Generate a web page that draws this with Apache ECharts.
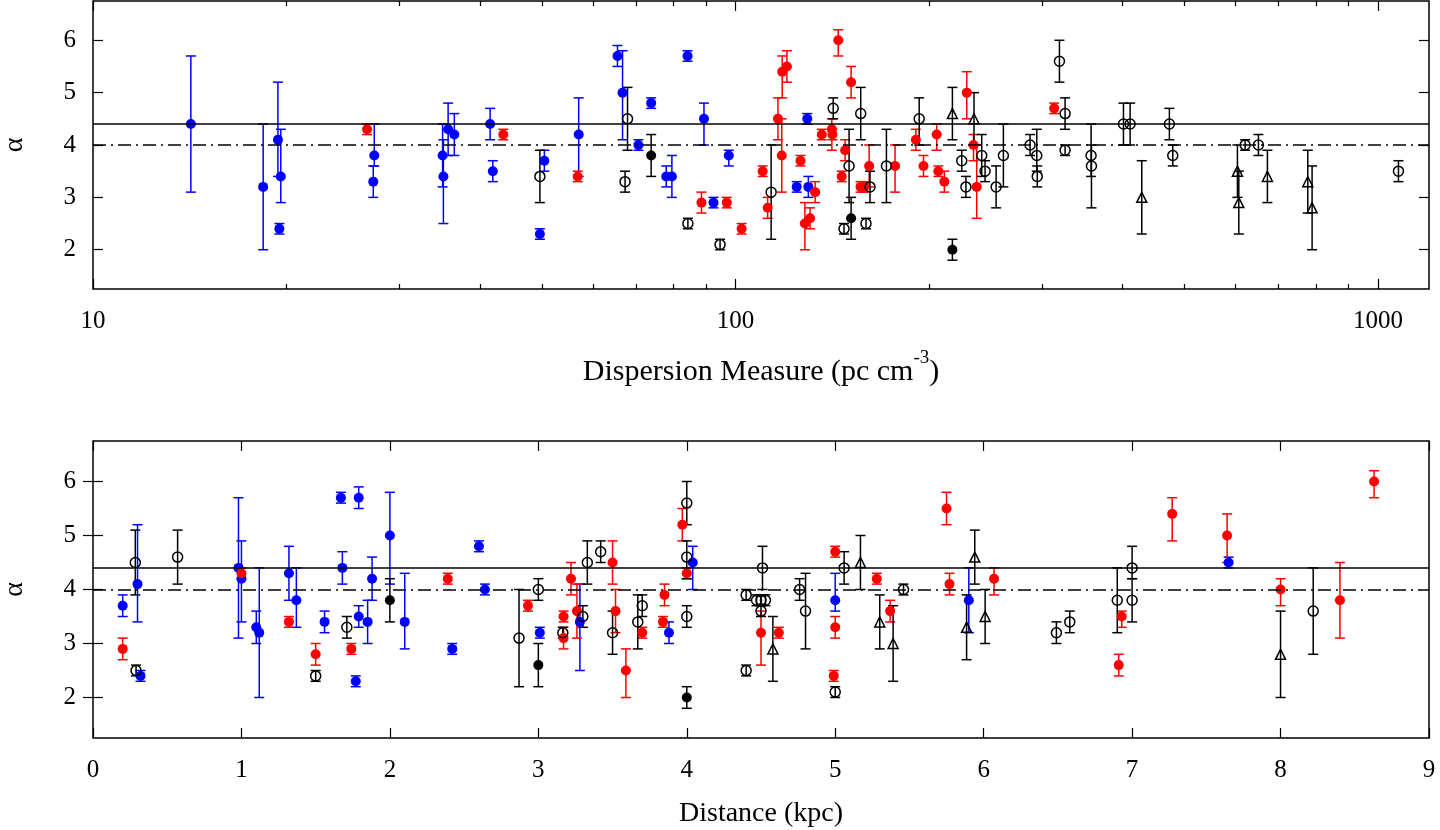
<!DOCTYPE html>
<html>
<head>
<meta charset="utf-8">
<script src="https://cdn.jsdelivr.net/npm/echarts@6/dist/echarts.min.js"></script>
<style>
  html, body { margin: 0; padding: 0; background: #fff; }
  #chart { width: 1440px; height: 830px; }
</style>
</head>
<body>
<div id="chart"></div>
<script>
// each point: [x, alpha, lower end of error bar, upper end of error bar]

// top panel: dispersion measure (pc cm^-3)
const dmBlue = [
  [14.2, 4.4, 3.1, 5.7], [18.4, 3.2, 2.0, 4.4], [19.4, 4.1, 3.4, 5.2], [19.6, 3.4, 2.9, 4.3],
  [19.5, 2.4, 2.3, 2.5], [27.4, 3.8, 3.6, 4.4], [27.3, 3.3, 3.0, 3.6], [35.0, 3.8, 3.2, 4.4],
  [35.1, 3.4, 2.5, 4.1], [35.7, 4.3, 3.8, 4.8], [36.5, 4.2, 3.8, 4.6], [41.5, 4.4, 4.1, 4.7],
  [41.9, 3.5, 3.3, 3.7], [49.6, 2.3, 2.2, 2.4], [50.4, 3.7, 3.5, 3.9], [57.0, 4.2, 3.4, 4.9],
  [65.5, 5.7, 5.5, 5.9], [66.7, 5.0, 4.1, 5.8], [70.6, 4.0, 3.9, 4.1], [73.9, 4.8, 4.7, 4.9],
  [78.0, 3.4, 3.2, 3.6], [79.6, 3.4, 3.0, 3.8], [84.2, 5.7, 5.6, 5.8], [89.3, 4.5, 4.0, 4.8],
  [92.4, 2.9, 2.8, 3.0], [97.6, 3.8, 3.6, 3.9], [124.5, 3.2, 3.1, 3.3], [129.3, 4.5, 4.4, 4.6],
  [129.8, 3.2, 3.0, 3.4]
];
const dmRed = [
  [26.7, 4.3, 4.2, 4.4], [43.5, 4.2, 4.1, 4.3], [56.8, 3.4, 3.3, 3.5], [88.5, 2.9, 2.7, 3.1],
  [96.9, 2.9, 2.8, 3.0], [102.2, 2.4, 2.3, 2.5], [110.2, 3.5, 3.4, 3.6], [112.2, 2.8, 2.6, 3.0],
  [116.4, 4.5, 4.1, 4.9], [118.0, 3.8, 3.1, 4.5], [118.2, 5.4, 4.9, 5.7], [120.2, 5.5, 5.2, 5.8],
  [126.2, 3.7, 3.6, 3.8], [128.2, 2.5, 2.0, 2.9], [130.6, 2.6, 2.4, 2.8], [133.0, 3.1, 2.9, 3.3],
  [136.2, 4.2, 4.1, 4.3], [141.2, 4.3, 3.9, 4.5], [141.5, 4.2, 4.1, 4.3], [144.5, 6.0, 5.7, 6.2],
  [146.3, 3.4, 3.3, 3.5], [148.1, 3.9, 3.7, 4.1], [151.3, 5.2, 4.9, 5.5], [156.5, 3.2, 3.1, 3.3],
  [158.7, 3.2, 3.1, 3.3], [161.4, 3.6, 3.2, 4.0], [177.1, 3.6, 3.1, 4.0], [190.8, 4.1, 3.9, 4.3],
  [196.1, 3.6, 3.4, 3.8], [205.6, 4.2, 3.9, 4.4], [206.8, 3.5, 3.4, 3.6], [211.3, 3.3, 3.1, 3.5],
  [229.0, 5.0, 4.5, 5.4], [234.6, 4.0, 3.7, 4.2], [237.3, 3.2, 2.6, 4.0], [313.2, 4.7, 4.6, 4.8]
];
const dmBlackFilled = [
  [73.9, 3.8, 3.4, 4.2], [151.3, 2.6, 2.2, 3.0], [217.5, 2.0, 1.8, 2.2]
];
const dmOpen = [
  [49.6, 3.4, 2.9, 3.9], [67.3, 3.3, 3.1, 3.5], [67.9, 4.5, 3.9, 5.1], [84.3, 2.5, 2.4, 2.6],
  [94.6, 2.1, 2.0, 2.2], [113.6, 3.1, 2.2, 4.0], [141.9, 4.7, 4.5, 4.9], [147.5, 2.4, 2.3, 2.5],
  [150.2, 3.6, 2.9, 4.3], [156.6, 4.6, 4.1, 5.1], [159.6, 2.5, 2.4, 2.6], [161.9, 3.2, 2.9, 3.5],
  [171.7, 3.6, 2.9, 4.3], [193.1, 4.5, 4.0, 4.9], [224.9, 3.7, 3.5, 3.9], [228.3, 3.2, 3.0, 3.4],
  [241.6, 3.8, 3.4, 4.2], [244.5, 3.5, 3.3, 3.7], [254.4, 3.2, 2.8, 3.6], [261.1, 3.8, 3.2, 4.4],
  [287.3, 4.0, 3.8, 4.2], [294.3, 3.8, 3.5, 4.3], [294.8, 3.4, 3.2, 3.6], [319.2, 5.6, 5.2, 6.0],
  [325.7, 4.6, 4.3, 4.9], [325.7, 3.9, 3.8, 4.0], [357.5, 3.8, 3.4, 4.4], [358.0, 3.6, 2.8, 4.0],
  [401.5, 4.4, 4.0, 4.8], [411.2, 4.4, 4.0, 4.8], [473.3, 4.4, 4.1, 4.7], [479.1, 3.8, 3.6, 4.0],
  [620.9, 4.0, 3.9, 4.1], [651.2, 4.0, 3.8, 4.2], [1075.6, 3.5, 3.3, 3.7]
];
const dmTriangle = [
  [217.5, 4.6, 4.1, 5.1], [235.0, 4.5, 4.0, 5.0], [428.7, 3.0, 2.3, 3.7], [604, 3.5, 3.0, 4.0],
  [607, 2.9, 2.3, 3.5], [672.5, 3.4, 2.9, 3.9], [777.2, 3.3, 2.7, 3.9], [789.3, 2.8, 2.0, 3.6]
];

// bottom panel: distance (kpc)
const distBlue = [
  [0.20, 3.7, 3.5, 3.9], [0.30, 4.1, 3.4, 5.2], [0.32, 2.4, 2.3, 2.5], [0.98, 4.4, 3.1, 5.7],
  [1.00, 4.2, 3.4, 4.9], [1.10, 3.3, 3.0, 3.6], [1.12, 3.2, 2.0, 4.4], [1.32, 4.3, 3.8, 4.8],
  [1.37, 3.8, 3.3, 4.4], [1.56, 3.4, 3.2, 3.6], [1.67, 5.7, 5.6, 5.8], [1.68, 4.4, 4.1, 4.7],
  [1.77, 2.3, 2.2, 2.4], [1.79, 5.7, 5.5, 5.9], [1.79, 3.5, 3.3, 3.7], [1.85, 3.4, 3.0, 3.8],
  [1.88, 4.2, 3.8, 4.6], [2.00, 5.0, 4.1, 5.8], [2.10, 3.4, 2.9, 4.3], [2.42, 2.9, 2.8, 3.0],
  [2.60, 4.8, 4.7, 4.9], [2.64, 4.0, 3.9, 4.1], [3.01, 3.2, 3.1, 3.3], [3.28, 3.4, 2.5, 4.1],
  [3.88, 3.2, 3.0, 3.4], [4.04, 4.5, 4.0, 4.8], [5.00, 3.8, 3.6, 4.3], [5.90, 3.8, 3.2, 4.4],
  [7.65, 4.5, 4.4, 4.6]
];
const distRed = [
  [0.20, 2.9, 2.7, 3.1], [1.00, 4.3, 4.2, 4.4], [1.32, 3.4, 3.3, 3.5], [1.50, 2.8, 2.6, 3.0],
  [1.74, 2.9, 2.8, 3.0], [2.39, 4.2, 4.1, 4.3], [2.93, 3.7, 3.6, 3.8], [3.17, 3.5, 3.4, 3.6],
  [3.17, 3.1, 2.9, 3.3], [3.22, 4.2, 3.9, 4.5], [3.26, 3.6, 3.1, 4.1], [3.50, 4.5, 4.1, 4.9],
  [3.52, 3.6, 3.2, 4.0], [3.59, 2.5, 2.0, 2.9], [3.70, 3.2, 3.1, 3.3], [3.84, 3.4, 3.3, 3.5],
  [3.85, 3.9, 3.7, 4.1], [3.97, 5.2, 4.9, 5.5], [4.00, 4.3, 4.2, 4.4], [4.50, 3.2, 2.6, 3.6],
  [4.62, 3.2, 3.1, 3.3], [5.00, 4.7, 4.6, 4.8], [5.00, 3.3, 3.1, 3.5], [4.99, 2.4, 2.3, 2.5],
  [5.28, 4.2, 4.1, 4.3], [5.37, 3.6, 3.4, 3.8], [5.75, 5.5, 5.2, 5.8], [5.77, 4.1, 3.9, 4.3],
  [6.07, 4.2, 3.9, 4.4], [6.91, 2.6, 2.4, 2.8], [6.93, 3.5, 3.3, 3.6], [7.27, 5.4, 4.9, 5.7],
  [7.64, 5.0, 4.5, 5.4], [8.00, 4.0, 3.7, 4.2], [8.40, 3.8, 3.1, 4.5], [8.63, 6.0, 5.7, 6.2]
];
const distBlackFilled = [
  [2.00, 3.8, 3.4, 4.2], [3.00, 2.6, 2.2, 3.0], [4.00, 2.0, 1.8, 2.2]
];
const distOpen = [
  [0.285, 4.5, 3.9, 5.1], [0.29, 2.5, 2.4, 2.6], [0.57, 4.6, 4.1, 5.1], [1.50, 2.4, 2.3, 2.5],
  [1.71, 3.3, 3.1, 3.5], [2.87, 3.1, 2.2, 4.0], [3.00, 4.0, 3.8, 4.2], [3.165, 3.2, 3.1, 3.3],
  [3.30, 3.5, 3.3, 3.7], [3.33, 4.5, 4.1, 4.9], [3.42, 4.7, 4.5, 4.9], [3.50, 3.2, 2.8, 3.6],
  [3.67, 3.4, 2.9, 3.9], [3.70, 3.7, 3.5, 3.9], [4.00, 5.6, 5.2, 6.0], [4.00, 4.6, 4.2, 4.9],
  [4.00, 3.5, 3.3, 3.7], [4.40, 3.9, 3.8, 4.0], [4.40, 2.5, 2.4, 2.6], [4.47, 3.8, 3.7, 3.9],
  [4.50, 3.8, 3.7, 3.9], [4.53, 3.8, 3.7, 3.9], [4.51, 4.4, 4.0, 4.8], [4.50, 3.6, 3.5, 3.7],
  [4.76, 4.0, 3.8, 4.2], [4.80, 3.6, 2.9, 4.3], [5.00, 2.1, 2.0, 2.2], [5.06, 4.4, 4.1, 4.7],
  [5.46, 4.0, 3.9, 4.1], [6.49, 3.2, 3.0, 3.4], [6.58, 3.4, 3.2, 3.6], [6.90, 3.8, 3.2, 4.4],
  [7.00, 4.4, 4.2, 4.8], [7.00, 3.8, 3.4, 4.2], [8.22, 3.6, 2.8, 4.4]
];
const distTriangle = [
  [4.58, 2.9, 2.3, 3.5], [5.17, 4.5, 4.0, 5.0], [5.30, 3.4, 2.9, 3.9], [5.39, 3.0, 2.3, 3.7],
  [5.885, 3.3, 2.7, 3.9], [5.94, 4.6, 4.1, 5.1], [6.01, 3.5, 3.0, 4.0], [8.00, 2.8, 2.0, 3.6]
];

// ticks and reference levels
const dmTicks = [10, 100, 1000];
const dmMinorTicks = [20, 30, 40, 50, 60, 70, 80, 90, 200, 300, 400, 500, 600, 700, 800, 900];
const distTicks = [0, 1, 2, 3, 4, 5, 6, 7, 8, 9];
const alphaTicks = [2, 3, 4, 5, 6];
const alphaSolid = 4.4;
const alphaDashDot = 4.0;

const FONT = 'Liberation Serif';
const RED = '#ff0000', BLUE = '#0000ff', BLACK = '#000000';

const chart = echarts.init(document.getElementById('chart'), null, { renderer: 'canvas' });

function tickAxis(grid, pos, type, min, max, ticks, len, labels, extra) {
  return Object.assign({
    type: type, gridIndex: grid, position: pos, min: min, max: max,
    axisLine: { show: false },
    splitLine: { show: false },
    axisTick: { show: true, inside: true, length: len, customValues: ticks,
                lineStyle: { color: BLACK, width: 1.2 } },
    axisLabel: labels ? { show: true, customValues: ticks, color: BLACK,
                          fontFamily: FONT, fontSize: 25, margin: 20,
                          formatter: function (v) { return String(v); } } : { show: false }
  }, extra || {});
}

// vertical error bar with caps
function errorBars(data, xi, yi, color) {
  return {
    type: 'custom', xAxisIndex: xi, yAxisIndex: yi, data: data,
    encode: { x: 0, y: [1, 2, 3] }, silent: true, z: 2,
    renderItem: function (params, api) {
      const lo = api.coord([api.value(0), api.value(2)]);
      const hi = api.coord([api.value(0), api.value(3)]);
      const cap = 5;
      const st = function () { return { stroke: color, lineWidth: 1.5 }; };
      return {
        type: 'group',
        children: [
          { type: 'line', shape: { x1: lo[0], y1: lo[1], x2: hi[0], y2: hi[1] }, style: st() },
          { type: 'line', shape: { x1: lo[0] - cap, y1: lo[1], x2: lo[0] + cap, y2: lo[1] }, style: st() },
          { type: 'line', shape: { x1: hi[0] - cap, y1: hi[1], x2: hi[0] + cap, y2: hi[1] }, style: st() }
        ]
      };
    }
  };
}

function markers(data, xi, yi, symbol, filled, color) {
  return {
    type: 'scatter', xAxisIndex: xi, yAxisIndex: yi, data: data,
    encode: { x: 0, y: 1 }, symbol: symbol, symbolSize: 10, silent: true, z: 3,
    itemStyle: filled ? { color: color, opacity: 1 }
                      : { color: 'rgba(0,0,0,0)', borderColor: color, borderWidth: 1.5, opacity: 1 }
  };
}

function refLines(xi, yi) {
  return {
    type: 'line', xAxisIndex: xi, yAxisIndex: yi, data: [], z: 1, silent: true,
    markLine: {
      silent: true, symbol: 'none', animation: false, label: { show: false },
      lineStyle: { color: BLACK, width: 1.5 },
      data: [
        { yAxis: alphaSolid, lineStyle: { type: 'solid', color: BLACK, width: 1.5 } },
        { yAxis: alphaDashDot, lineStyle: { type: [13, 5, 2, 5], color: BLACK, width: 1.5 } }
      ]
    }
  };
}

function panel(xi, yi, blue, red, blackFilled, open, tri) {
  return [
    refLines(xi, yi),
    errorBars(blue, xi, yi, BLUE), markers(blue, xi, yi, 'circle', true, BLUE),
    errorBars(red, xi, yi, RED), markers(red, xi, yi, 'circle', true, RED),
    errorBars(blackFilled, xi, yi, BLACK), markers(blackFilled, xi, yi, 'circle', true, BLACK),
    errorBars(open, xi, yi, BLACK), markers(open, xi, yi, 'circle', false, BLACK),
    errorBars(tri, xi, yi, BLACK), markers(tri, xi, yi, 'triangle', false, BLACK)
  ];
}

const nameStyle = { color: BLACK, fontFamily: FONT, fontSize: 28 };

const option = {
  animation: false,
  backgroundColor: '#fff',
  textStyle: { fontFamily: FONT },
  grid: [
    { left: 93, top: 1, width: 1336, height: 288, show: true, borderColor: BLACK, borderWidth: 1.5,
      backgroundColor: 'transparent', containLabel: false, outerBoundsMode: 'none' },
    { left: 93, top: 441, width: 1336, height: 297, show: true, borderColor: BLACK, borderWidth: 1.5,
      backgroundColor: 'transparent', containLabel: false, outerBoundsMode: 'none' }
  ],
  xAxis: [
    tickAxis(0, 'bottom', 'log', 10, 1200, dmTicks, 10, true, {
      logBase: 10,
      name: '{n|Dispersion Measure (pc cm}{s|-3}{n|)}',
      nameLocation: 'middle', nameGap: 60,
      nameTextStyle: {
        rich: {
          n: { fontFamily: FONT, fontSize: 30, color: BLACK, lineHeight: 38, verticalAlign: 'bottom' },
          s: { fontFamily: FONT, fontSize: 19, color: BLACK, lineHeight: 38, verticalAlign: 'top' }
        }
      }
    }),
    tickAxis(0, 'bottom', 'log', 10, 1200, dmMinorTicks, 5, false, { logBase: 10 }),
    tickAxis(0, 'top', 'log', 10, 1200, dmTicks, 10, false, { logBase: 10 }),
    tickAxis(0, 'top', 'log', 10, 1200, dmMinorTicks, 5, false, { logBase: 10 }),
    tickAxis(1, 'bottom', 'value', 0, 9, distTicks, 10, true, {
      name: 'Distance (kpc)', nameLocation: 'middle', nameGap: 62, nameTextStyle: nameStyle
    }),
    tickAxis(1, 'top', 'value', 0, 9, distTicks, 10, false)
  ],
  yAxis: [
    tickAxis(0, 'left', 'value', 1.25, 6.75, alphaTicks, 10, true, {
      name: 'α', nameLocation: 'middle', nameGap: 64, nameRotate: 90, nameTextStyle: nameStyle
    }),
    tickAxis(0, 'right', 'value', 1.25, 6.75, alphaTicks, 10, false),
    tickAxis(1, 'left', 'value', 1.25, 6.75, alphaTicks, 10, true, {
      name: 'α', nameLocation: 'middle', nameGap: 64, nameRotate: 90, nameTextStyle: nameStyle
    }),
    tickAxis(1, 'right', 'value', 1.25, 6.75, alphaTicks, 10, false)
  ],
  series: [].concat(
    panel(0, 0, dmBlue, dmRed, dmBlackFilled, dmOpen, dmTriangle),
    panel(4, 2, distBlue, distRed, distBlackFilled, distOpen, distTriangle)
  )
};

// left y labels sit closer to the axis than x labels
option.yAxis[0].axisLabel.margin = 17;
option.yAxis[2].axisLabel.margin = 17;

chart.setOption(option);
</script>
</body>
</html>
